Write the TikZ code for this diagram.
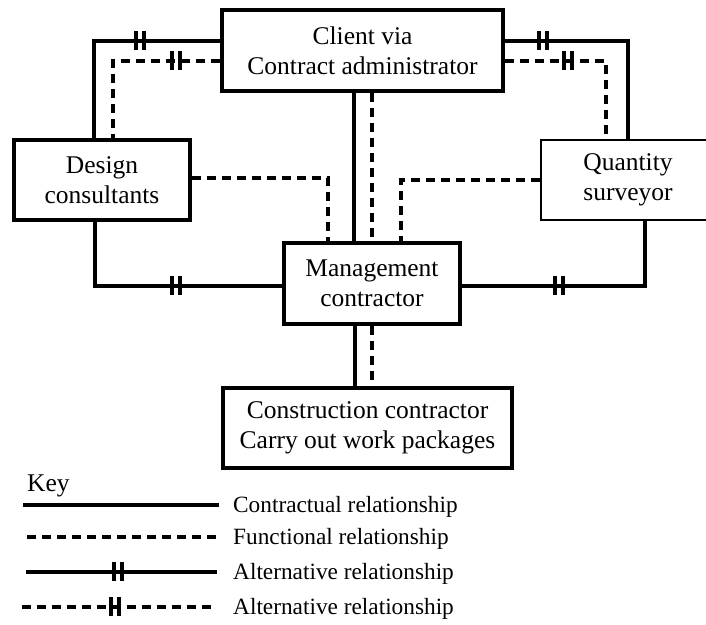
\documentclass[tikz,border=0pt]{standalone}
\usepackage{fontspec}
\setmainfont{Liberation Serif}
\begin{document}
\begin{tikzpicture}[x=1pt,y=-1pt,
  box/.style={draw, line width=3.8pt, inner sep=0pt, align=center,
    font=\fontsize{25.5}{30}\selectfont},
  conn/.style={line width=3.2pt},
  fconn/.style={line width=3.2pt, dash pattern=on 9pt off 6pt},
  keytext/.style={anchor=base west, inner sep=0pt, font=\fontsize{23.3}{28}\selectfont},
  pics/dbar/.style={code={\draw[line width=3.4pt] (-4,-10) -- (-4,9) (4,-10) -- (4,9);}}
]
\useasboundingbox (0,0) rectangle (706,624);

% parties
\node[box, minimum width=281pt, minimum height=81pt] (client) at (362.5,50.5)
  {Client via\\Contract administrator};
\node[box, minimum width=176pt, minimum height=80pt] (design) at (102,180)
  {Design\\consultants};
\node[box, line width=2.4pt, minimum width=174pt, minimum height=80pt] (qs) at (628,180)
  {Quantity\\surveyor};
\node[box, minimum width=176pt, minimum height=81pt] (mc) at (372,283.5)
  {Management\\contractor};
\node[box, minimum width=289pt, minimum height=80pt] (cc) at (367.5,428)
  {Construction contractor\\Carry out work packages};

% routing lanes
\coordinate (lA) at (94,41);
\coordinate (lB) at (113,61);
\coordinate (rA) at (628,41);
\coordinate (rB) at (606,61);
\coordinate (cA) at (354,0);
\coordinate (cB) at (372,0);
\coordinate (cC) at (355,0);
\coordinate (dA) at (328,178);
\coordinate (qB) at (401,180);
\coordinate (lowL) at (95,286);
\coordinate (lowR) at (645,286);

% relationships
\draw[conn]  (client.west |- lA) -| (design.north -| lA);
\draw[fconn] (client.west |- lB) -| (design.north -| lB);
\draw[conn]  (client.east |- rA) -| (qs.north -| rA);
\draw[fconn] (client.east |- rB) -| (qs.north -| rB);
\draw[conn, line width=4.8pt] (client.south -| cA) -- (mc.north -| cA);
\draw[fconn, line width=4.4pt] (client.south -| cB) -- (mc.north -| cB);
\draw[fconn] (design.east |- dA) -| (mc.north -| dA);
\draw[fconn] (qs.west |- qB) -| (mc.north -| qB);
\draw[conn]  (design.south -| lowL) |- (mc.west |- lowL);
\draw[conn]  (qs.south -| lowR) |- (mc.east |- lowR);
\draw[conn]  (mc.south -| cC) -- (cc.north -| cC);
\draw[fconn] (mc.south -| cB) -- (cc.north -| cB);

% alternative-relationship marks
\pic at (140,41) {dbar};
\pic at (176,61) {dbar};
\pic at (543,41) {dbar};
\pic at (568,61) {dbar};
\pic at (176,286) {dbar};
\pic at (559,286) {dbar};

% key
\node[keytext, font=\fontsize{25.5}{30}\selectfont] (key) at (27,491) {Key};
\coordinate (k1a) at (23,505);  \coordinate (k1b) at (219,505);
\coordinate (k2a) at (27,537);  \coordinate (k2b) at (219,537);
\coordinate (k3a) at (26,572);  \coordinate (k3b) at (217,572);
\coordinate (k4a) at (22,607);  \coordinate (k4b) at (213,607);
\draw[conn]  (k1a) -- (k1b);
\draw[fconn] (k2a) -- (k2b);
\draw[conn]  (k3a) -- (k3b);
\draw[fconn] (k4a) -- (k4b);
\pic at (118,572) {dbar};
\pic at (115,607) {dbar};
\node[keytext] (t1) at (233,512) {Contractual relationship};
\node[keytext] (t2) at (233,544) {Functional relationship};
\node[keytext] (t3) at (233,579) {Alternative relationship};
\node[keytext] (t4) at (233,614) {Alternative relationship};
\end{tikzpicture}
\end{document}
